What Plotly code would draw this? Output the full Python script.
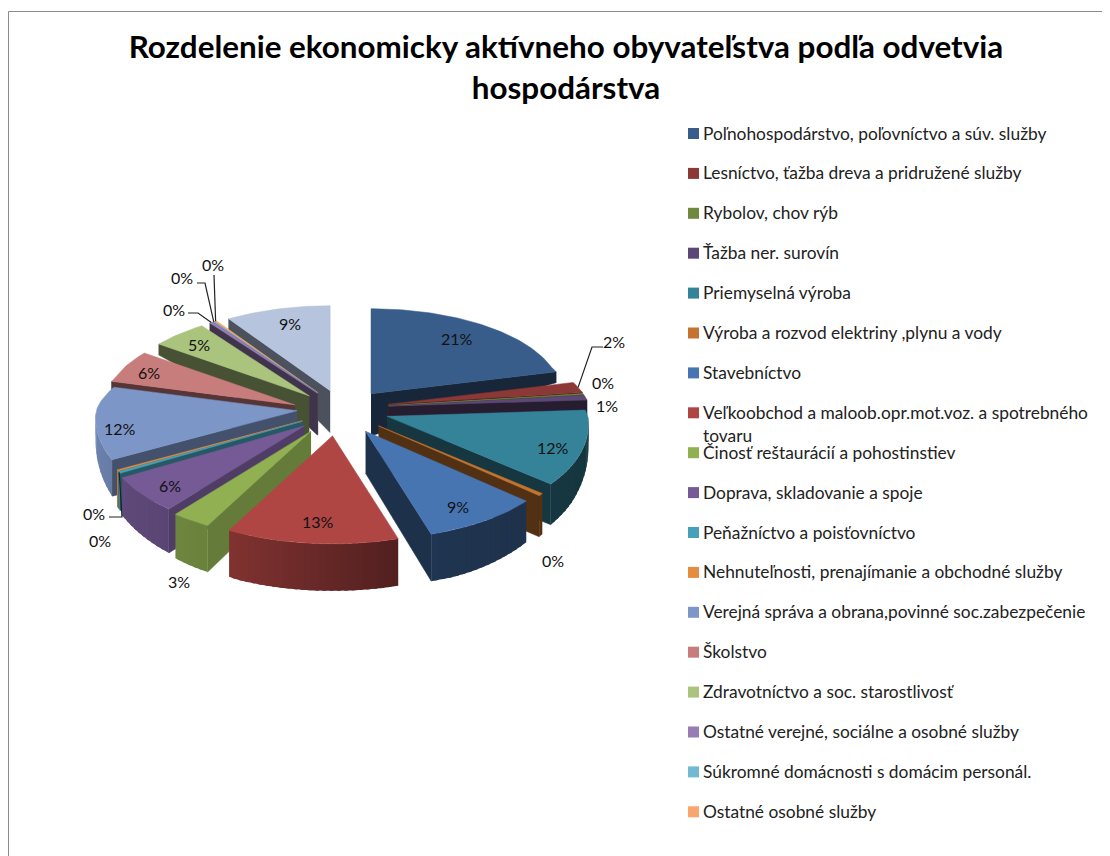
import numpy as np
import plotly.graph_objects as go

title_text = "Rozdelenie ekonomicky aktívneho obyvateľstva podľa odvetvia<br>hospodárstva"
categories = [
    "Poľnohospodárstvo, poľovníctvo a súv. služby",
    "Lesníctvo, ťažba dreva a pridružené služby",
    "Rybolov, chov rýb",
    "Ťažba ner. surovín",
    "Priemyselná výroba",
    "Výroba a rozvod elektriny ,plynu a vody",
    "Stavebníctvo",
    "Veľkoobchod a maloob.opr.mot.voz. a spotrebného\ntovaru",
    "Činosť reštaurácií a pohostinstiev",
    "Doprava, skladovanie a spoje",
    "Peňažníctvo a poisťovníctvo",
    "Nehnuteľnosti, prenajímanie a obchodné služby",
    "Verejná správa a obrana,povinné soc.zabezpečenie",
    "Školstvo",
    "Zdravotníctvo a soc. starostlivosť",
    "Ostatné verejné, sociálne a osobné služby",
    "Súkromné domácnosti s domácim personál.",
    "Ostatné osobné služby",
]
# The 19th slice has no visible legend row in the picture
values = [20.9, 1.9, 0.2, 0.9, 12.0, 0.4, 8.9, 13.0, 3.0, 6.0, 0.3, 0.2, 12.0, 6.0, 5.0, 0.3, 0.1, 0.2, 9.0]
colors = ["#385D8A", "#8C3836", "#71893F", "#5C4776", "#358399", "#C4742E", "#4775B2", "#B04644",
          "#90B052", "#755A96", "#46A0B9", "#E68C41", "#7D96C8", "#C87D7D", "#AAC37D", "#967DB4",
          "#73B9D2", "#FAA56E", "#B6C4DE"]

# Label placement (pixels), leader elbows (None = no leader)
label_x = [457, 614, 603, 607, 553, 553, 458, 318, 179, 170, 94, 100, 120, 149, 199, 174, 182, 213, 290]
label_y = [338, 341, 382, 405, 447, 560, 506, 521, 581, 485, 513, 540, 428, 372, 344, 309, 277, 264, 323]
leader_elbow = {1: (592, 347), 10: (122, 517), 15: (198, 313), 16: (205, 283), 17: (214, 275)}
leader_start = {1: (603, 347), 10: (109, 517), 15: (188, 313), 16: (197, 283), 17: (214, 275)}

CX, CY = 343, 408
EXP_X, EXP_BACK, EXP_FRONT = 46, 18, 28
explode_nudge_x = [0, 0, 0, 0, 0, 0, -3, -6, -6, -3, 0, 0, 0, -7, -2, 0, 0, 0, 0]
explode_nudge_y = [0, 0, 0, 0, 0, 0, 0, 0, 0, 0, 0, 0, 0, 5, 1, 0, 0, 0, 0]
FONT = "Lato"
PAGE_OFFSET = 8  # the page body margin

def ss(t):
    return np.sin(np.radians(t))

def cc(t):
    return np.cos(np.radians(t))

def project(t):
    """Local offset of a rim point at clock angle t (deg) from the slice apex."""
    v = cc(t)
    rx = np.interp(v, [-1, 0, 0.1, 0.3, 1], [216, 201, 198, 190, 190])
    ry = np.where(v > 0, 85, 108)
    return rx * ss(t), -ry * v

def rim_height(t):
    return np.interp(cc(t), [-0.9, -0.47, 0.0, 0.2, 1.0], [47, 37, 20, 11, 11])

def shade(color, f):
    r, g, b = int(color[1:3], 16), int(color[3:5], 16), int(color[5:7], 16)
    return f"rgb({int(r*f)},{int(g*f)},{int(b*f)})"

APEX_H = 42
total = sum(values)
edges = np.concatenate([[0], np.cumsum(values)]) / total * 360

fig = go.Figure()

def poly(xs, ys, color, edge=True):
    fig.add_trace(go.Scatter(x=list(xs), y=list(ys), mode="lines" if edge else "none", fill="toself", fillcolor=color,
                             line=dict(color=color, width=0.5), hoverinfo="skip", showlegend=False))

apexes = []
for i in range(len(values)):
    mid = (edges[i] + edges[i + 1]) / 2
    dy = -cc(mid) * (EXP_BACK if cc(mid) > 0 else EXP_FRONT)
    apexes.append((CX + EXP_X * ss(mid) + explode_nudge_x[i], CY + dy + explode_nudge_y[i]))

order = [18, 17, 16, 15, 14, 13, 12, 11, 10, 9, 8, 0, 1, 2, 3, 4, 5, 6, 7]
for i in order:
    t0, t1 = edges[i], edges[i + 1]
    ax, ay = apexes[i]
    col = colors[i]
    # radial wall
    if t1 <= 180:
        px, py = project(t1)
        h = rim_height(t1)
        poly([ax, ax + px, ax + px, ax], [ay, ay + py, ay + py + h, ay + APEX_H], shade(col, 0.42))
    if t0 >= 180:
        px, py = project(t0)
        h = rim_height(t0)
        f = np.interp(t0, [200, 220, 250, 290], [0.72, 0.68, 0.5, 0.42])
        poly([ax, ax + px, ax + px, ax], [ay, ay + py, ay + py + h, ay + APEX_H], shade(col, f))
    # rim wall, shaded by angle; segments overlap so no seams show
    a, b = max(t0, 90), min(t1, 270)
    if b > a:
        n = max(1, int(np.ceil((b - a) / 2)))
        steps = np.linspace(a, b, n + 1)
        for s0, s1 in zip(steps[:-1], steps[1:]):
            ts = np.array([s0, min(s1 + 1, b)])
            px, py = project(ts)
            h = rim_height(ts)
            f = np.interp((s0 + s1) / 2, [90, 160, 210, 270], [0.40, 0.45, 0.74, 0.9])
            poly([ax + px[0], ax + px[1], ax + px[1], ax + px[0]],
                 [ay + py[0], ay + py[1], ay + py[1] + h[1], ay + py[0] + h[0]], shade(col, f), edge=False)
    # top face
    ts = np.linspace(t0, t1, max(2, int((t1 - t0)) + 2))
    px, py = project(ts)
    poly(np.concatenate([[ax], ax + px, [ax]]), np.concatenate([[ay], ay + py, [ay]]), col)

annotations = []
for i, v in enumerate(values):
    annotations.append(dict(x=label_x[i], y=label_y[i], xref="x", yref="y", text=f"{round(v)}%", showarrow=False,
                            font=dict(family=FONT, size=16, color="#111111")))
    if i in leader_elbow:
        mid = (edges[i] + edges[i + 1]) / 2
        px, py = project(mid)
        sx, sy = leader_start[i]
        ex, ey = leader_elbow[i]
        fig.add_trace(go.Scatter(x=[sx, ex, apexes[i][0] + float(px)], y=[sy, ey, apexes[i][1] + float(py)],
                                 mode="lines", line=dict(color="#222222", width=1.2),
                                 hoverinfo="skip", showlegend=False))

# Legend
LEG_Y0, LEG_DY, LEG_BOX_X, LEG_TEXT_X, LEG_WRAP = 133.5, 39.9, 693.5, 701, 23
fig.add_trace(go.Scatter(x=[LEG_BOX_X] * len(categories),
                         y=[LEG_Y0 + k * LEG_DY for k in range(len(categories))],
                         mode="markers", hoverinfo="skip", showlegend=False,
                         marker=dict(symbol="square", size=11, color=colors[:len(categories)], line=dict(width=0))))
for k, name in enumerate(categories):
    for j, line in enumerate(name.split("\n")):
        annotations.append(dict(x=LEG_TEXT_X, y=LEG_Y0 + k * LEG_DY + j * LEG_WRAP - 0.5, xref="x", yref="y", text=line,
                                showarrow=False, xanchor="left", yanchor="middle",
                                font=dict(family=FONT, size=17.35, color="#222222")))

W, H = 1110 - PAGE_OFFSET, 856 - PAGE_OFFSET
fig.update_layout(
    width=W, height=H, autosize=False,
    margin=dict(l=0, r=0, t=0, b=0),
    paper_bgcolor="white", plot_bgcolor="white",
    showlegend=False,
    title=dict(text=title_text, x=(566 - PAGE_OFFSET) / W, xanchor="center", y=1 - 50 / H, yanchor="top",
               font=dict(family=FONT, size=31.4, color="#000000", weight="bold")),
    xaxis=dict(range=[PAGE_OFFSET, 1110], visible=False, fixedrange=True),
    yaxis=dict(range=[856, PAGE_OFFSET], visible=False, fixedrange=True),
    annotations=annotations,
    shapes=[dict(type="rect", xref="x", yref="y", x0=8.5, y0=11.5, x1=1300, y1=1000,
                 line=dict(color="#8c8c8c", width=1))],
)
fig.write_html("out.html", config=dict(displayModeBar=False))
